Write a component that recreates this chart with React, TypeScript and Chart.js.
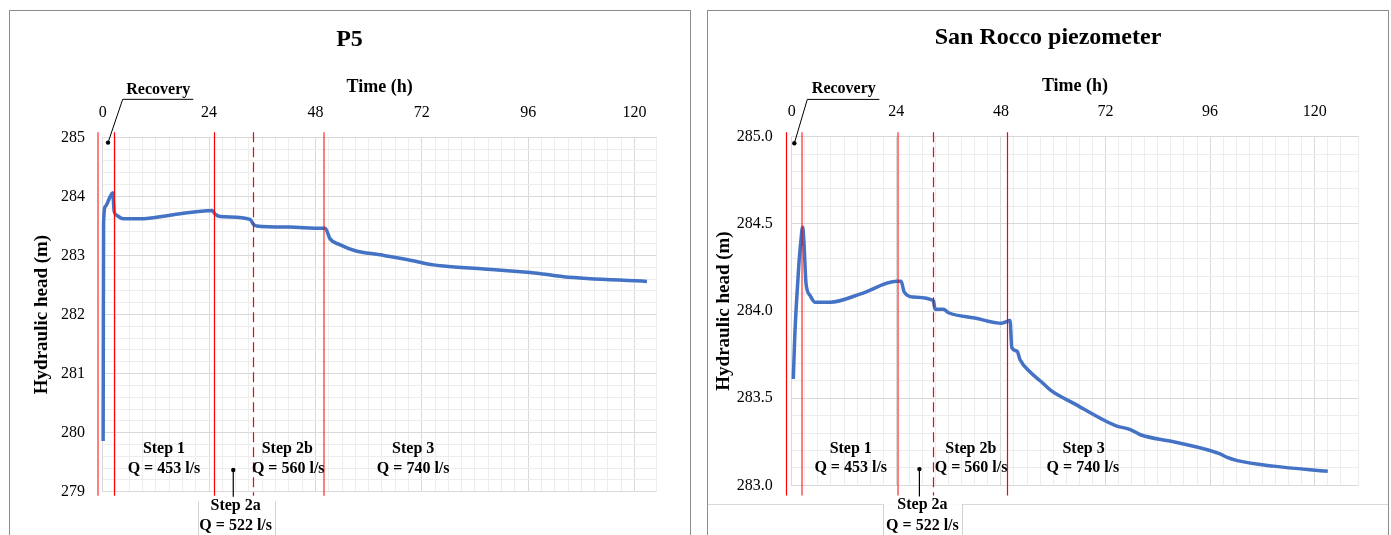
import React, { useEffect, useRef } from "react";
import { Chart, registerables } from "chart.js";

Chart.register(...registerables);

const FONT = "'Liberation Serif', 'Times New Roman', serif";
const MAJOR = "#d9d9d9";
const MINOR = "#ededed";
const BLUE = "#4472C4";

// ---------- P5 data ----------
const p5Hours = [0.1, 0.2, 0.6, 1.65, 2.25, 2.6, 3.15, 4.65, 8.4, 16, 24.7, 25.35, 26.5, 33.25, 34.0, 34.75, 42, 49.4, 50.2, 51.3, 53.6, 57.0, 62.6, 69.4, 74.6, 76.9, 86, 96.5, 98.0, 104.0, 122.8];
const p5Head = [279.86, 283.54, 283.83, 283.99, 284.06, 283.74, 283.68, 283.62, 283.62, 283.69, 283.76, 283.7, 283.66, 283.61, 283.53, 283.5, 283.48, 283.46, 283.46, 283.28, 283.18, 283.08, 283.01, 282.92, 282.84, 282.82, 282.77, 282.71, 282.7, 282.64, 282.56];
const p5EventHours = [-1.1, 2.5, 25.2, 33.8, 49.9];
const p5EventStyle = ["light", "solid", "solid", "dashed", "light"];

// ---------- San Rocco data ----------
const srHours = [0.37, 0.7, 1.1, 1.6, 2.1, 2.5, 2.8, 3.28, 4.2, 5.35, 8.8, 16, 24.1, 25.1, 25.8, 27.9, 32.5, 32.9, 34.8, 36.0, 42, 48.2, 50.1, 50.5, 51.7, 52.4, 54.7, 57.0, 59.7, 64.7, 71.9, 74.6, 77.7, 80.0, 87.6, 98.3, 99.9, 102.5, 110.6, 123.0];
const srHead = [283.61, 283.85, 284.05, 284.25, 284.4, 284.48, 284.4, 284.16, 284.09, 284.05, 284.05, 284.1, 284.17, 284.17, 284.11, 284.08, 284.06, 284.01, 284.01, 283.99, 283.96, 283.93, 283.945, 283.79, 283.77, 283.72, 283.65, 283.6, 283.54, 283.47, 283.37, 283.34, 283.32, 283.29, 283.25, 283.18, 283.16, 283.14, 283.11, 283.08];
const srEventHours = [-1.24, 2.37, 24.4, 32.5, 49.5];
const srEventStyle = ["solid", "light", "light", "dashed", "solid"];

const stepLabels = ["Step 1", "Q = 453 l/s", "Step 2b", "Q = 560 l/s", "Step 3", "Q = 740 l/s"];
const step2aLabels = ["Step 2a", "Q = 522 l/s"];

type Cfg = {
  key: string;
  title: string;
  titleX: number;
  titleY: number;
  hours: number[];
  head: number[];
  xMax: number;
  yMin: number;
  yMax: number;
  yStep: number;
  yMajor: number;
  yDecimals: number;
  padding: { left: number; right: number; top: number; bottom: number };
  xAxisHeight: number;
  yAxisWidth: number;
  xTickPad: number;
  yTickPad: number;
  events: number[];
  eventStyle: string[];
  eventTop: number;
  eventBottom: number;
  recovery: { label: [number, number]; under: [number, number, number]; dot: [number, number] };
  stepPos: [number, number][];
  step2aPos: [number, number][];
  pointer: [number, number, number];
  box: [number, number, number];
};

const leftCfg: Cfg = {
  key: "p5",
  title: "P5",
  titleX: 349.5,
  titleY: 40,
  hours: p5Hours,
  head: p5Head,
  xMax: 125,
  yMin: 279,
  yMax: 285,
  yStep: 0.2,
  yMajor: 1,
  yDecimals: 0,
  padding: { left: 30.3, right: 41.3, top: 76.7, bottom: 43.3 },
  xAxisHeight: 60.6,
  yAxisWidth: 72.4,
  xTickPad: 14.7,
  yTickPad: 17.7,
  events: p5EventHours,
  eventStyle: p5EventStyle,
  eventTop: 285.085,
  eventBottom: 278.933,
  recovery: { label: [12.54, 285.81], under: [20.44, 4.51, 285.643], dot: [1.2, 284.91] },
  stepPos: [[13.83, 279.72], [13.83, 279.385], [41.64, 279.72], [41.86, 279.385], [70.06, 279.72], [70.06, 279.385]],
  step2aPos: [[30.0, 278.763], [30.0, 278.425]],
  pointer: [29.46, 279.368, 278.916],
  box: [21.43, 38.93, 278.83],
};

const rightCfg: Cfg = {
  key: "sr",
  title: "San Rocco piezometer",
  titleX: 350,
  titleY: 38,
  hours: srHours,
  head: srHead,
  xMax: 130,
  yMin: 283,
  yMax: 285,
  yStep: 0.1,
  yMajor: 0.5,
  yDecimals: 1,
  padding: { left: 14.5, right: 32.7, top: 75.7, bottom: 49.7 },
  xAxisHeight: 61,
  yAxisWidth: 79.2,
  xTickPad: 15.1,
  yTickPad: 19,
  events: srEventHours,
  eventStyle: srEventStyle,
  eventTop: 285.025,
  eventBottom: 282.942,
  recovery: { label: [11.96, 285.272], under: [20.12, 3.58, 285.214], dot: [0.6, 284.962] },
  stepPos: [[13.55, 283.209], [13.55, 283.099], [41.1, 283.209], [41.17, 283.099], [66.96, 283.209], [66.82, 283.099]],
  step2aPos: [[29.99, 282.888], [29.99, 282.769]],
  pointer: [29.3, 283.093, 282.936],
  box: [20.9, 39.04, 282.892],
};

function isMultiple(v: number, m: number) {
  const r = v / m;
  return Math.abs(r - Math.round(r)) < 1e-6;
}

function makeOverlay(cfg: Cfg) {
  return {
    id: "overlay_" + cfg.key,
    afterDatasetsDraw(chart: any) {
      const ctx = chart.ctx;
      const xs = chart.scales.x;
      const ys = chart.scales.y;
      const top = ys.getPixelForValue(cfg.eventTop);
      const bottom = ys.getPixelForValue(cfg.eventBottom);
      ctx.save();
      cfg.events.forEach((h, i) => {
        const style = cfg.eventStyle[i];
        const px = xs.getPixelForValue(h);
        ctx.beginPath();
        if (style === "light") {
          ctx.strokeStyle = "rgba(255,0,0,0.5)";
          ctx.lineWidth = 2;
          ctx.setLineDash([]);
          ctx.moveTo(Math.round(px), top);
          ctx.lineTo(Math.round(px), bottom);
        } else {
          ctx.strokeStyle = "#ff0000";
          ctx.lineWidth = 1.2;
          ctx.setLineDash(style === "dashed" ? [10, 5] : []);
          ctx.moveTo(Math.round(px) + 0.5, top);
          ctx.lineTo(Math.round(px) + 0.5, bottom);
        }
        ctx.stroke();
      });
      ctx.restore();
    },
    afterDraw(chart: any) {
      const ctx = chart.ctx;
      const xs = chart.scales.x;
      const ys = chart.scales.y;
      const X = (v: number) => xs.getPixelForValue(v);
      const Y = (v: number) => ys.getPixelForValue(v);
      ctx.save();
      // title
      ctx.fillStyle = "#000";
      ctx.textAlign = "center";
      ctx.textBaseline = "middle";
      ctx.font = `bold 24px ${FONT}`;
      ctx.fillText(cfg.title, cfg.titleX, cfg.titleY);

      // Recovery callout
      ctx.font = `bold 16px ${FONT}`;
      ctx.fillText("Recovery", X(cfg.recovery.label[0]), Y(cfg.recovery.label[1]));
      ctx.strokeStyle = "#000";
      ctx.lineWidth = 1;
      ctx.setLineDash([]);
      ctx.beginPath();
      ctx.moveTo(X(cfg.recovery.under[0]), Y(cfg.recovery.under[2]));
      ctx.lineTo(X(cfg.recovery.under[1]), Y(cfg.recovery.under[2]));
      ctx.lineTo(X(cfg.recovery.dot[0]), Y(cfg.recovery.dot[1]));
      ctx.stroke();
      ctx.beginPath();
      ctx.arc(X(cfg.recovery.dot[0]), Y(cfg.recovery.dot[1]), 2.2, 0, Math.PI * 2);
      ctx.fill();

      // step labels
      stepLabels.forEach((t, i) => {
        ctx.fillText(t, X(cfg.stepPos[i][0]), Y(cfg.stepPos[i][1]));
      });

      // Step 2a text box
      const bx1 = X(cfg.box[0]);
      const bx2 = X(cfg.box[1]);
      const by = Y(cfg.box[2]);
      ctx.fillStyle = "#fff";
      ctx.fillRect(bx1, by, bx2 - bx1, chart.height - by + 2);
      ctx.strokeStyle = "#d0d0d0";
      ctx.lineWidth = 1;
      ctx.beginPath();
      ctx.moveTo(Math.round(bx1) + 0.5, by);
      ctx.lineTo(Math.round(bx1) + 0.5, chart.height + 2);
      ctx.moveTo(Math.round(bx2) + 0.5, by);
      ctx.lineTo(Math.round(bx2) + 0.5, chart.height + 2);
      ctx.stroke();
      ctx.fillStyle = "#000";
      step2aLabels.forEach((t, i) => {
        ctx.fillText(t, X(cfg.step2aPos[i][0]), Y(cfg.step2aPos[i][1]));
      });

      // pointer
      const ppx = X(cfg.pointer[0]);
      ctx.strokeStyle = "#000";
      ctx.lineWidth = 1.2;
      ctx.beginPath();
      ctx.moveTo(ppx, Y(cfg.pointer[1]));
      ctx.lineTo(ppx, Y(cfg.pointer[2]));
      ctx.stroke();
      ctx.beginPath();
      ctx.arc(ppx, Y(cfg.pointer[1]), 2.2, 0, Math.PI * 2);
      ctx.fill();
      ctx.restore();
    },
  };
}

function HeadChart({ cfg, width, height }: { cfg: Cfg; width: number; height: number }) {
  const ref = useRef<HTMLCanvasElement | null>(null);
  useEffect(() => {
    if (!ref.current) return;
    const data = cfg.hours.map((h, i) => ({ x: h, y: cfg.head[i] }));
    const chart = new Chart(ref.current, {
      type: "line",
      data: {
        datasets: [
          {
            data,
            borderColor: BLUE,
            borderWidth: 3.5,
            pointRadius: 0,
            fill: false,
            cubicInterpolationMode: "monotone",
            clip: 4,
          },
        ],
      },
      options: {
        animation: false,
        responsive: false,
        maintainAspectRatio: false,
        layout: { padding: cfg.padding },
        plugins: {
          legend: { display: false },
          tooltip: { enabled: false },
          title: { display: false },
        },
        scales: {
          x: {
            type: "linear",
            position: "top",
            min: 0,
            max: cfg.xMax,
            afterFit: (s: any) => {
              s.height = cfg.xAxisHeight;
            },
            ticks: {
              stepSize: 3,
              autoSkip: false,
              maxRotation: 0,
              padding: cfg.xTickPad,
              color: "#000",
              font: { family: FONT, size: 16 },
              callback: (v: any) => (isMultiple(Number(v), 24) ? String(Math.round(Number(v))) : ""),
            },
            grid: {
              drawTicks: false,
              lineWidth: 1,
              color: (c: any) => (c.tick && isMultiple(c.tick.value, 24) ? MAJOR : MINOR),
            },
            border: { display: true, color: MAJOR },
            title: {
              display: true,
              text: "Time (h)",
              color: "#000",
              padding: 0,
              font: { family: FONT, size: 18, weight: "bold" },
            },
          },
          y: {
            type: "linear",
            min: cfg.yMin,
            max: cfg.yMax,
            afterFit: (s: any) => {
              s.width = cfg.yAxisWidth;
            },
            ticks: {
              stepSize: cfg.yStep,
              autoSkip: false,
              padding: cfg.yTickPad,
              color: "#000",
              font: { family: FONT, size: 16 },
              callback: (v: any) =>
                isMultiple(Number(v), cfg.yMajor) ? Number(v).toFixed(cfg.yDecimals) : "",
            },
            grid: {
              drawTicks: false,
              lineWidth: 1,
              color: (c: any) => (c.tick && isMultiple(c.tick.value, cfg.yMajor) ? MAJOR : MINOR),
            },
            border: { display: true, color: MAJOR },
            title: {
              display: true,
              text: "Hydraulic head (m)",
              color: "#000",
              padding: 0,
              font: { family: FONT, size: 19, weight: "bold" },
            },
          },
        },
      } as any,
      plugins: [makeOverlay(cfg)],
    });
    return () => chart.destroy();
  }, [cfg]);
  return <canvas ref={ref} width={width} height={height} style={{ width, height, display: "block" }} />;
}

export default function App() {
  return (
    <div
      style={{
        position: "absolute",
        left: 0,
        top: 0,
        width: 1391,
        height: 535,
        background: "#fff",
        overflow: "hidden",
      }}
    >
      <div
        style={{
          position: "absolute",
          left: 9,
          top: 10,
          width: 682,
          height: 600,
          border: "1px solid #8c8c8c",
          boxSizing: "border-box",
        }}
      />
      <div
        style={{
          position: "absolute",
          left: 707,
          top: 10,
          width: 682,
          height: 600,
          border: "1px solid #8c8c8c",
          boxSizing: "border-box",
        }}
      />
      <div
        style={{
          position: "absolute",
          left: 708,
          top: 504,
          width: 680,
          height: 1,
          background: "#d9d9d9",
        }}
      />
      <div style={{ position: "absolute", left: 0, top: 0 }}>
        <HeadChart cfg={leftCfg} width={698} height={535} />
      </div>
      <div style={{ position: "absolute", left: 698, top: 0 }}>
        <HeadChart cfg={rightCfg} width={693} height={535} />
      </div>
    </div>
  );
}
